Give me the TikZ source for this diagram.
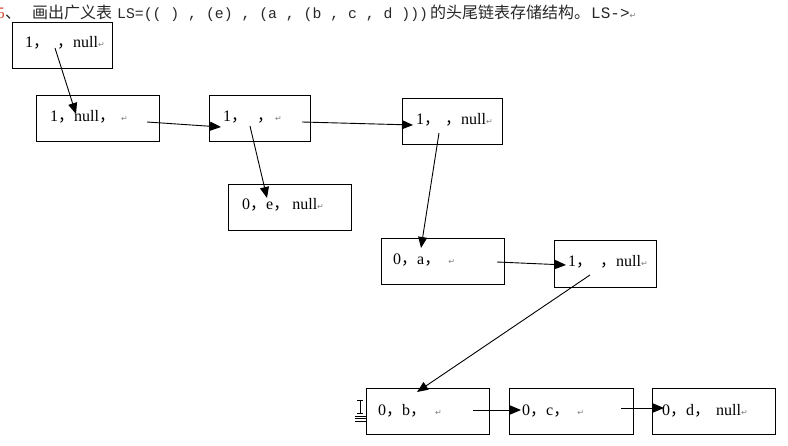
\documentclass[tikz,border=0pt]{standalone}
\usepackage{fontspec}
\setmainfont{Liberation Serif}
\newfontfamily\cjk{Noto Sans CJK SC}
\newfontfamily\monof{Liberation Mono}
\newfontfamily\dvs{DejaVu Sans}
\usetikzlibrary{arrows.meta}
\definecolor{titlegray}{RGB}{40,40,40}
\definecolor{numred}{RGB}{215,70,40}
\newcommand{\fc}{{\cjk ，}}
\newcommand{\parmark}{{\dvs\fontsize{8}{9}\selectfont\textcolor{gray}{↵}}}
\tikzset{
  box/.style={draw, line width=0.9pt, inner sep=0pt, anchor=north west},
  txt/.style={anchor=base west, inner sep=0pt, font=\fontsize{16}{18}\selectfont},
  ttl/.style={anchor=base west, inner sep=0pt, text=titlegray},
  arr/.style={line width=0.9pt, -{Triangle[length=11pt,width=9pt]}}
}
\begin{document}
\begin{tikzpicture}[x=1pt,y=-1pt]
\useasboundingbox[fill=white] (0,0) rectangle (788,446);
% title
\node[anchor=base east, inner sep=0pt, text=numred, font=\fontsize{16}{18}\selectfont] (n5) at (5,19) {5};
\node[ttl, font=\cjk\fontsize{16}{18}\selectfont] (tdun) at (5,19) {、};
\node[ttl, font=\cjk\fontsize{16}{18}\selectfont] (ta) at (32,19) {画出广义表};
\node[ttl, font=\monof\fontsize{14.8}{18}\selectfont] (tb) at (117,19) {LS=(( ) , (e) , (a , (b , c , d )))};
\node[ttl, font=\cjk\fontsize{16}{18}\selectfont] (tc) at (430,19) {的头尾链表存储结构。};
\node[ttl, font=\monof\fontsize{16}{18}\selectfont] (td) at (591,19) {LS->\parmark};
% boxes
\node[box, minimum width=100pt, minimum height=46pt] (b0) at (12,22) {};
\node[box, minimum width=123pt, minimum height=46pt] (b1) at (36,95) {};
\node[box, minimum width=101pt, minimum height=46pt] (b2) at (209,95) {};
\node[box, minimum width=100pt, minimum height=46pt] (b3) at (402,98) {};
\node[box, minimum width=123pt, minimum height=46pt] (b4) at (228,184) {};
\node[box, minimum width=123pt, minimum height=46pt] (b5) at (381,238) {};
\node[box, minimum width=102pt, minimum height=47pt] (b6) at (554,240) {};
\node[box, minimum width=123pt, minimum height=46pt] (b7) at (366,388) {};
\node[box, minimum width=124pt, minimum height=46pt] (b8) at (509,388) {};
\node[box, minimum width=123pt, minimum height=46pt] (b9) at (652,388) {};
% texts
\node[txt] (t0) at (25,48) {1\fc\hspace{8pt}\fc null\parmark};
\node[txt] (t1) at (50,122) {1\fc null\fc\hspace{6pt}\parmark};
\node[txt] (t2) at (223,122) {1\fc\hspace{10pt}\fc\hspace{2pt}\parmark};
\node[txt] (t3) at (416,125) {1\fc\hspace{5pt}\fc null\parmark};
\node[txt] (t4) at (242,210) {0\fc e\fc\hspace{3pt}null\parmark};
\node[txt] (t5) at (393,265) {0\fc a\fc\hspace{8pt}\parmark};
\node[txt] (t6) at (568,267) {1\fc\hspace{8pt}\fc null\parmark};
\node[txt] (t7) at (378,416) {0\fc b\fc\hspace{9pt}\parmark};
\node[txt] (t8) at (522,416) {0\fc c\fc\hspace{8pt}\parmark};
\node[txt] (t9) at (662,416) {0\fc d\fc\hspace{6pt}null\parmark};
% connector points
\coordinate (s1) at (55,48);   \coordinate (e1) at (76,114);
\coordinate (s2) at (147,122); \coordinate (e2) at (221,127);
\coordinate (s3) at (250,126); \coordinate (e3) at (267,198);
\coordinate (s4) at (302,122); \coordinate (e4) at (413,125);
\coordinate (s5) at (439,133); \coordinate (e5) at (421,248);
\coordinate (s6) at (497,262); \coordinate (e6) at (566,265);
\coordinate (s7) at (590,275); \coordinate (e7) at (417,392);
\coordinate (s8) at (473,410); \coordinate (e8) at (521,410);
\coordinate (s9) at (621,408); \coordinate (e9) at (664,408);
\foreach \i in {1,...,9} { \draw[arr] (s\i) -- (e\i); }
% editor cursor artefact
\draw[line width=0.7pt] (357,400) -- (363,400) (360,400) -- (360,413) (357,413) -- (363,413);
\draw[line width=0.7pt] (355,416) -- (367,416) (355,418.5) -- (367,418.5) (355,421) -- (367,421);
\end{tikzpicture}
\end{document}
